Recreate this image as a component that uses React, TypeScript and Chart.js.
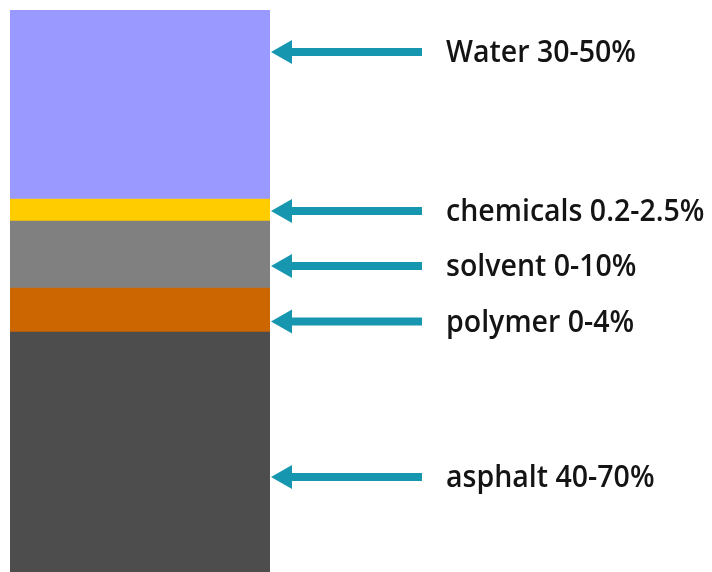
import React, { useEffect, useRef } from "react";
import { Chart, registerables } from "chart.js";

Chart.register(...registerables);

// Layers from bottom to top of the column
const layers = ["asphalt", "polymer", "solvent", "chemicals", "Water"];
const layerHeights = [240, 44, 67, 22, 189];
const layerColors = ["#4D4D4D", "#CC6600", "#808080", "#FFCC00", "#9999FF"];
const labelTexts = [
  "asphalt 40-70%",
  "polymer 0-4%",
  "solvent 0-10%",
  "chemicals 0.2-2.5%",
  "Water 30-50%",
];
// Height on the column that each callout arrow points at
const arrowLevels = [95, 250.5, 306, 361, 520];

const ARROW_COLOR = "#1797AF";
const TEXT_FONT = "600 31px 'Open Sans', sans-serif";
const TEXT_SQUEEZE = 0.92;

const calloutPlugin = {
  id: "callouts",
  afterDraw(chart: any) {
    const { ctx, chartArea, scales } = chart;
    const y = scales.y;
    const tipX = chartArea.right + 1;
    ctx.save();
    arrowLevels.forEach((lvl, i) => {
      const py = y.getPixelForValue(lvl);
      // shaft
      ctx.fillStyle = ARROW_COLOR;
      ctx.fillRect(tipX + 20, py - 4, 131, 8);
      // head
      ctx.beginPath();
      ctx.moveTo(tipX, py);
      ctx.lineTo(tipX + 21, py - 12);
      ctx.lineTo(tipX + 21, py + 12);
      ctx.closePath();
      ctx.fill();
      // label, slightly condensed
      ctx.save();
      ctx.translate(tipX + 175, py + 10);
      ctx.scale(TEXT_SQUEEZE, 1);
      ctx.fillStyle = "#141414";
      ctx.font = TEXT_FONT;
      ctx.textAlign = "left";
      ctx.textBaseline = "alphabetic";
      ctx.fillText(labelTexts[i], 0, 0);
      ctx.restore();
    });
    ctx.restore();
  },
};

export default function App() {
  const ref = useRef<HTMLCanvasElement>(null);
  useEffect(() => {
    document.body.style.margin = "0";
    const total = layerHeights.reduce((a, b) => a + b, 0);
    const chart = new Chart(ref.current!, {
      type: "bar",
      data: {
        labels: ["mix"],
        datasets: layers.map((name, i) => ({
          label: name,
          data: [layerHeights[i]],
          backgroundColor: layerColors[i],
          borderWidth: 0,
          barPercentage: 1,
          categoryPercentage: 1,
        })),
      },
      options: {
        animation: false,
        responsive: false,
        layout: { padding: { left: 10, top: 10, right: 442, bottom: 0 } },
        plugins: { legend: { display: false }, tooltip: { enabled: false } },
        scales: {
          x: { stacked: true, display: false },
          y: { stacked: true, display: false, min: 0, max: total },
        },
      },
      plugins: [calloutPlugin],
    });
    return () => chart.destroy();
  }, []);
  return <canvas ref={ref} width={712} height={572} style={{ display: "block" }} />;
}
